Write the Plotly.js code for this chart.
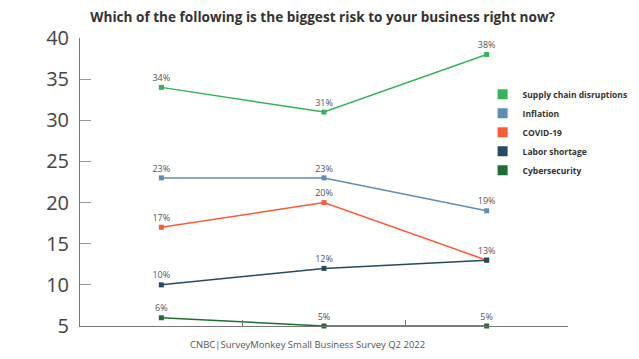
<!DOCTYPE html>
<html>
<head>
<meta charset="utf-8">
<script src="https://cdn.plot.ly/plotly-3.0.1.min.js"></script>
<style>html,body{margin:0;padding:0;background:#fff;}#chart{width:639px;height:359px;}</style>
</head>
<body>
<div id="chart"></div>
<script>
const periods = ['Q4 2021', 'Q1 2022', 'Q2 2022'];
const seriesNames = ['Supply chain disruptions', 'Inflation', 'COVID-19', 'Labor shortage', 'Cybersecurity'];
const supplyChain = [34, 31, 38];
const inflation = [23, 23, 19];
const covid = [17, 20, 13];
const laborShortage = [10, 12, 13];
const cybersecurity = [6, 5, 5];
const yTicks = [5, 10, 15, 20, 25, 30, 35, 40];
const colors = ['#34b45a', '#5b8fba', '#ff5a36', '#254a62', '#1f6f31'];

const allValues = [supplyChain, inflation, covid, laborShortage, cybersecurity];
const traces = [];
allValues.forEach((vals, i) => {
  // skip a label when a later series carries the same value at the same point (labels would overlap)
  const labels = vals.map((v, j) => allValues.slice(i + 1).some(o => o[j] === v) ? '' : v + '%');
  traces.push({
    x: periods, y: vals, type: 'scatter', mode: 'lines+markers+text',
    name: seriesNames[i], showlegend: false,
    line: {color: colors[i], width: 1.5},
    marker: {color: colors[i], size: 5, symbol: 'square'},
    text: labels, textposition: 'top center',
    textfont: {family: 'Open Sans', size: 9, color: '#555'},
    cliponaxis: false, hoverinfo: 'skip'
  });
});
allValues.forEach((vals, i) => {
  traces.push({
    x: [null], y: [null], type: 'scatter', mode: 'markers',
    name: seriesNames[i], showlegend: true,
    marker: {color: colors[i], size: 10, symbol: 'square'}
  });
});

const layout = {
  width: 639, height: 359,
  margin: {l: 80, r: 71, t: 38, b: 33, autoexpand: false},
  paper_bgcolor: '#fff', plot_bgcolor: '#fff',
  title: {text: '<b>Which of the following is the biggest risk to your business right now?</b>',
    font: {family: 'Open Sans', size: 13.6, color: '#333'}, x: 0.505, xanchor: 'center', y: 0.953, yanchor: 'middle'},
  xaxis: {type: 'category', range: [-0.5, 2.5], showticklabels: false, tickson: 'boundaries',
    ticks: 'inside', ticklen: 6, tickcolor: '#777', showline: true, linecolor: '#777', linewidth: 1,
    showgrid: false, zeroline: false, fixedrange: true},
  yaxis: {range: [5, 40], tickvals: yTicks, ticktext: yTicks.map(String), ticks: 'inside', ticklen: 11,
    tickcolor: '#999', showline: true, linecolor: '#777', linewidth: 1, showgrid: false, zeroline: false,
    tickfont: {family: 'Open Sans', size: 20, color: '#444'}, ticklabelstandoff: 6},
  legend: {x: 0.825, y: 0.855, xanchor: 'left', yanchor: 'top', bgcolor: 'rgba(0,0,0,0)',
    font: {family: 'Open Sans', size: 8.5, color: '#333', weight: 700}, tracegroupgap: 0, itemwidth: 30},
  annotations: [{text: 'CNBC|SurveyMonkey Small Business Survey Q2 2022', xref: 'paper', yref: 'paper',
    x: 0.466, y: -0.035, xanchor: 'center', yanchor: 'top', showarrow: false,
    font: {family: 'Open Sans', size: 9.5, color: '#555'}}]
};
Plotly.newPlot('chart', traces, layout, {displayModeBar: false, staticPlot: true});
</script>
</body>
</html>
